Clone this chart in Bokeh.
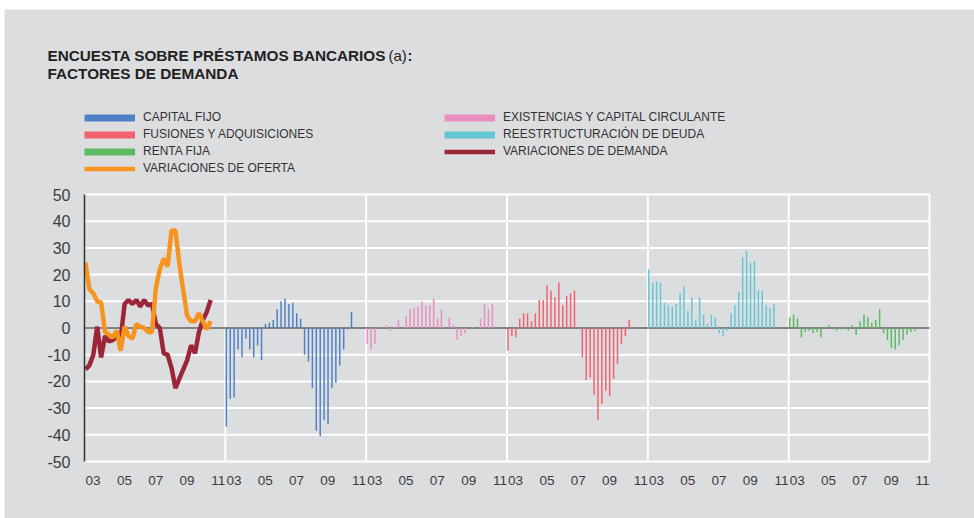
import numpy as np
from bokeh.plotting import figure
from bokeh.models import Range1d, Legend, LegendItem, Label
from bokeh.core.properties import value
from bokeh.embed import file_html
from bokeh.resources import INLINE

# ---------------- data (quarterly, 2003Q1 .. 2011Q1) ----------------
quarters = list(range(33))
tick_labels = ["03", "05", "07", "09", "11"]
tick_quarters = [0, 8, 16, 24, 32]
y_ticks = [-50, -40, -30, -20, -10, 0, 10, 20, 30, 40, 50]

variaciones_demanda = [-15.5, -14, -10, 0.5, -11, -3, -5, -4.5, -3.5, -4, 9, 10.5, 9, 10.5, 8, 10.5,
                       8.5, 9, 1.5, 0, -9.5, -10, -15, -22.5, -19, -15.5, -12, -6.5, -9.5, -1.5, 3, 6, 10.5]
variaciones_oferta = [24.5, 14.5, 13, 10, 9.5, -1.5, -2.5, -3.5, -1, -8.5, 0.5, -3, -4, 1.5, 0.5, 0,
                      -1.5, -1.5, 15, 22, 26, 23, 36.5, 36.5, 24, 14, 4.5, 2.5, 2.5, 5.5, 2.5, -0.5, 2.5]

capital_fijo = [-37, -26.5, -26, -8, -11, -4, -8, -11, -6.5, -12, 1.5, 2, 3, 7, 10, 11, 9, 9.5, 5.5,
                3.5, -10, -12.5, -22.5, -38.5, -40.5, -34.5, -36, -22.5, -20.5, -14, -8, -0.5, 6]
existencias = [-6, -8, -6, 0.5, 0, 1, -1, 0.5, 3, 0, 4.5, 7, 7.5, 8, 10, 8.5, 8.5, 11, 3.5, 7, 0, 4,
               1, -4.5, -3, -2, 0, 0.5, 0, 3.5, 9, 7, 9]
fusiones = [-8.5, -3, -3.5, 3.5, 5.5, 5.5, 2.5, 5.5, 10.5, 10.5, 16, 14, 11.5, 17, 8.5, 12, 13, 14, 0,
            -11, -19.5, -18.5, -25, -34.5, -28.5, -23.5, -25.5, -19, -13.5, -6, -3, 3, 0]
reestructuracion = [22, 17, 17.5, 17, 9.5, 8.5, 8, 9, 13, 15.5, 6.5, 11.5, 3, 11.5, 5, 1.5, 5, 4, -2,
                    -3, -1, 5.5, 8.5, 13.5, 26.5, 29, 24.5, 25, 14, 14, 8.5, 7.5, 9]
renta_fija = [4, 5, 3.5, -3.5, -1.5, -1, -2, -1.5, -3.5, 0.5, 1, -0.5, -1, -0.5, 0.5, -1, 1, -2.5,
              2.5, 5, 4, 2, 3, 7, -2, -4.5, -7.5, -8, -6.5, -4.5, -2.5, -1.5, -1]

bar_panels = [
    ("CAPITAL FIJO", capital_fijo, "#4f80c6"),
    ("EXISTENCIAS Y CAPITAL CIRCULANTE", existencias, "#e88fc0"),
    ("FUSIONES Y ADQUISICIONES", fusiones, "#f2616e"),
    ("REESTRTUCTURACIÓN DE DEUDA", reestructuracion, "#66c7d4"),
    ("RENTA FIJA", renta_fija, "#5dba62"),
]
C_DEM = "#9b2638"
C_OFE = "#f7941d"

# ---------------- layout constants (pixels) ----------------
W, H = 974, 518
BOX_L, BOX_T = 4, 9                 # grey box offset
PL, PR, PT, PB = 84, 929, 194, 461  # plot area
PANEL = 36                          # quarters per panel (9 years)
NPAN = 6
OFF = 0.25
YMIN, YMAX = -50, 50
BG = "#dcdddf"
FONT = value("Liberation Sans")

xs_per_px = (PANEL * NPAN) / (PR - PL)
ys_per_px = (YMAX - YMIN) / (PB - PT)
x_range = Range1d(-(PL - BOX_L) * xs_per_px, (W - PL) * xs_per_px)
y_range = Range1d(YMIN - (H - PB) * ys_per_px, YMAX + (PT - BOX_T) * ys_per_px)

p = figure(width=W, height=H, output_backend="svg", toolbar_location=None,
           x_range=x_range, y_range=y_range, x_axis_type=None, y_axis_type=None,
           background_fill_color=BG, border_fill_color="white")
p.min_border_left = BOX_L
p.min_border_top = BOX_T
p.min_border_right = 0
p.min_border_bottom = 0
p.outline_line_color = None
p.grid.visible = False

XEND = PANEL * NPAN

# horizontal grid lines
p.segment(x0=[0] * len(y_ticks), x1=[XEND] * len(y_ticks), y0=y_ticks, y1=y_ticks,
          line_color="white", line_width=2)
# panel separators
seps = [PANEL * i for i in range(1, NPAN + 1)]
p.segment(x0=seps, x1=seps, y0=[YMIN] * len(seps), y1=[YMAX] * len(seps),
          line_color="white", line_width=2)
# zero line
p.segment(x0=[0], x1=[XEND], y0=[0], y1=[0], line_color="#5a5a5a", line_width=1.5)

# bars
for i, (name, vals, col) in enumerate(bar_panels):
    xs = [(i + 1) * PANEL + q + OFF for q in quarters]
    p.vbar(x=xs, top=vals, bottom=0, width=0.38, fill_color=col, line_color=None)

# lines (panel 1)
xl = [q + OFF for q in quarters]
r_dem = p.line(xl, variaciones_demanda, line_color=C_DEM, line_width=4.5)
r_ofe = p.line(xl, variaciones_oferta, line_color=C_OFE, line_width=4.5)

# left axis line
p.segment(x0=[0], x1=[0], y0=[YMIN], y1=[YMAX], line_color="#333333", line_width=1.5)

# y tick labels
p.text(x=[0] * len(y_ticks), y=y_ticks, text=[str(v) for v in y_ticks], x_offset=-14,
       text_align="right", text_baseline="middle", text_font=FONT,
       text_font_size="16px", text_color="#3c3c3c")

# x tick labels
xt, xlab = [], []
for i in range(NPAN):
    for q, lab in zip(tick_quarters, tick_labels):
        xt.append(i * PANEL + q + 2.2)
        xlab.append(lab)
p.text(x=xt, y=[YMIN] * len(xt), text=xlab, y_offset=19, text_align="center",
       text_baseline="middle", text_font=FONT, text_font_size="13.5px",
       text_color="#3c3c3c")

# legend swatches for the bar series (no visible mark: NaN position)
def swatch(col):
    return p.line(x=np.array([np.nan]), y=np.array([np.nan]), line_color=col,
                  line_width=7, line_cap="butt")

items1 = [
    LegendItem(label="CAPITAL FIJO", renderers=[swatch(bar_panels[0][2])]),
    LegendItem(label="FUSIONES Y ADQUISICIONES", renderers=[swatch(bar_panels[2][2])]),
    LegendItem(label="RENTA FIJA", renderers=[swatch(bar_panels[4][2])]),
    LegendItem(label="VARIACIONES DE OFERTA", renderers=[r_ofe]),
]
items2 = [
    LegendItem(label="EXISTENCIAS Y CAPITAL CIRCULANTE", renderers=[swatch(bar_panels[1][2])]),
    LegendItem(label="REESTRTUCTURACIÓN DE DEUDA", renderers=[swatch(bar_panels[3][2])]),
    LegendItem(label="VARIACIONES DE DEMANDA", renderers=[r_dem]),
]

ROW = 17
LEG_TOP = 108.5

def make_legend(items, left):
    bottom = LEG_TOP + ROW * len(items)
    lg = Legend(items=items, location=(left - BOX_L, H - bottom), orientation="vertical")
    lg.glyph_width = 51
    lg.glyph_height = ROW
    lg.label_height = ROW
    lg.spacing = 0
    lg.padding = 0
    lg.margin = 0
    lg.label_standoff = 8
    lg.border_line_color = None
    lg.background_fill_alpha = 0
    lg.label_text_font = "Liberation Sans"
    lg.label_text_font_size = "12px"
    lg.label_text_color = "#333333"
    return lg

p.add_layout(make_legend(items1, PL))
p.add_layout(make_legend(items2, 444))

# title
tkw = dict(x_units="screen", y_units="screen", text_font="Liberation Sans",
           text_color="#222222", text_baseline="middle")
p.add_layout(Label(x=47 - BOX_L, y=H - 55, text="ENCUESTA SOBRE PRÉSTAMOS BANCARIOS",
                   text_font_style="bold", text_font_size="15.3px", **tkw))
p.add_layout(Label(x=388 - BOX_L, y=H - 55, text="(a)", text_font_style="normal",
                   text_font_size="15px", **tkw))
p.add_layout(Label(x=407 - BOX_L, y=H - 55, text=":", text_font_style="bold",
                   text_font_size="15px", **tkw))
p.add_layout(Label(x=47 - BOX_L, y=H - 73, text="FACTORES DE DEMANDA",
                   text_font_style="bold", text_font_size="15.3px", **tkw))

open("out.html", "w").write(file_html(p, INLINE))
